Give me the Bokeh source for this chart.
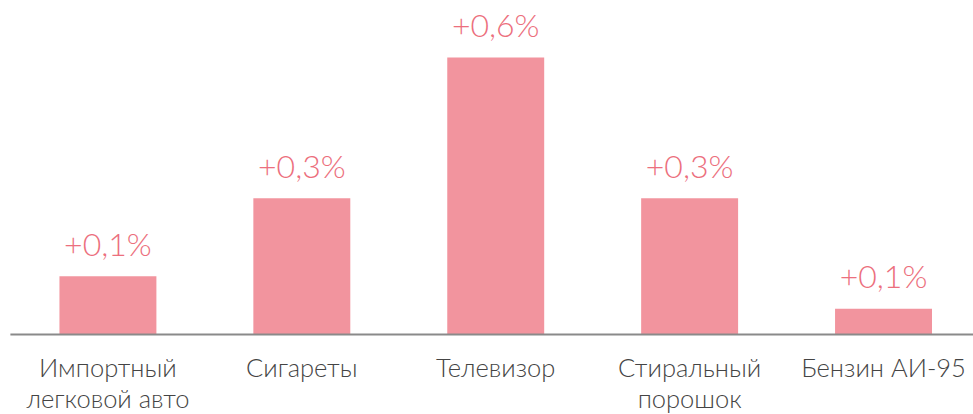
from bokeh.plotting import figure
from bokeh.models import Range1d
from bokeh.core.properties import value
from bokeh.embed import file_html
from bokeh.resources import INLINE

categories = ["Импортный\nлегковой авто", "Сигареты", "Телевизор", "Стиральный\nпорошок", "Бензин АИ-95"]
values = [0.126, 0.295, 0.60, 0.295, 0.056]
labels = ["+0,1%", "+0,3%", "+0,6%", "+0,3%", "+0,1%"]

xs = list(range(len(categories)))
FONT = "Lato Light"

p = figure(width=973, height=414, output_backend="svg", toolbar_location=None,
           x_range=Range1d(-0.554, 4.464), y_range=Range1d(-0.1733, 0.7234),
           min_border=0, outline_line_color=None)
p.axis.visible = False
p.grid.visible = False

p.vbar(x=xs, top=values, width=0.5, bottom=0, fill_color="#F2949E", line_color=None)
p.segment(x0=[-0.503], y0=[0], x1=[4.464], y1=[0], line_color="#8a8a8a", line_width=2)

p.text(x=xs, y=values, text=labels, text_align="center", text_baseline="alphabetic",
       y_offset=-33, text_font=value(FONT), text_font_size="32px", text_color="#EC6F7D")

p.text(x=xs, y=[0] * len(xs), text=categories, text_align="center", text_baseline="top",
       y_offset=18, text_font=value(FONT), text_font_size="25.5px", text_color="#444444",
       text_line_height=1.03)

open("out.html", "w").write(file_html(p, INLINE))
